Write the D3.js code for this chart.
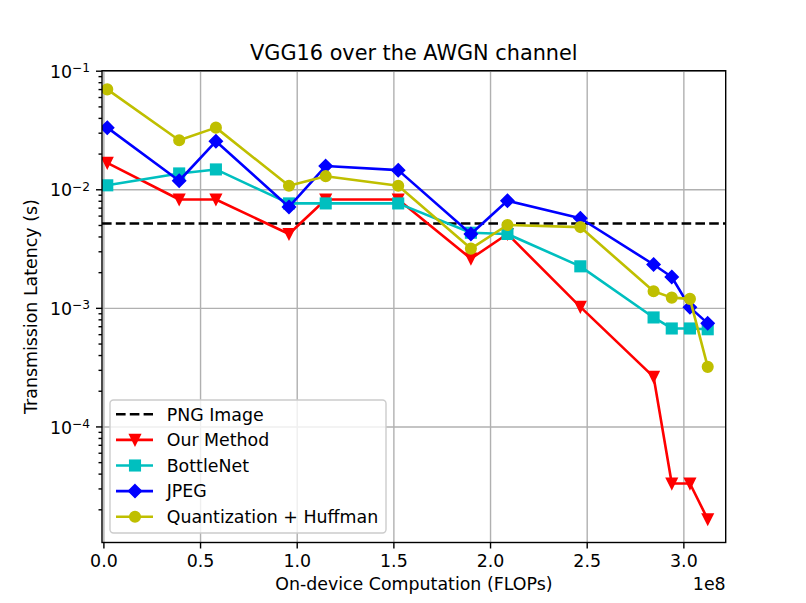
<!DOCTYPE html>
<html lang="en">
<head>
    <title>VGG16 over the AWGN channel</title>
    <meta charset="utf-8"/>
    <script src="https://d3js.org/d3.v7.min.js"></script>
    <style>
        body { margin: 0; background: #fff; }
        svg { font-family: "DejaVu Sans", sans-serif; }
    </style>
</head>
<body>
<div id="viz">
    <svg width="806" height="603"></svg>
</div>

<script type="text/javascript">

    // data (x in FLOPs, y in seconds)
    const flops = [0.02e8, 0.392e8, 0.582e8, 0.96e8, 1.15e8, 1.525e8, 1.901e8, 2.09e8, 2.467e8, 2.846e8, 2.94e8, 3.034e8, 3.126e8];
    const ourMethod = [0.0167, 0.0082, 0.0082, 0.0042, 0.0082, 0.0082, 0.0026, 0.0042, 0.00102, 2.62e-4, 3.3e-5, 3.3e-5, 1.65e-5];
    const bottleNet = [0.0108, 0.0136, 0.0147, 0.0076, 0.0076, 0.0076, 0.0043, 0.0042, 0.00224, 8.3e-4, 6.7e-4, 6.7e-4, 6.6e-4];
    const jpeg = [0.0331, 0.0118, 0.0254, 0.0071, 0.0157, 0.0145, 0.0042, 0.0080, 0.0057, 0.00232, 0.00182, 0.00101, 7.4e-4];
    const quantHuffman = [0.0696, 0.0259, 0.0331, 0.0107, 0.0129, 0.0107, 0.00316, 0.0050, 0.0048, 0.00138, 0.00122, 0.00119, 3.18e-4];
    const pngLatency = 0.00514;

    const xTicks = [0, 0.5e8, 1e8, 1.5e8, 2e8, 2.5e8, 3e8];
    const yTicks = [1e-1, 1e-2, 1e-3, 1e-4];
    const seriesNames = ["Our Method", "BottleNet", "JPEG", "Quantization + Huffman"];

    // colores estilo matplotlib
    const red = "#ff0000", cyan = "#00bfbf", blue = "#0000ff", olive = "#bfbf00";
    const fs = "17.4px";

    const margin = {left: 102, right: 80.3, top: 70.7, bottom: 60.5};
    const W = 806, H = 603;
    const w = W - margin.left - margin.right, h = H - margin.top - margin.bottom;

    let x = d3.scaleLinear().domain([-0.0072e8, 3.219e8]).range([0, w]);
    let y = d3.scaleLog().domain([1.05e-5, 1e-1]).range([h, 0]);

    let svg = d3.select("svg");
    let g = svg.append("g").attr("transform", "translate(" + margin.left + "," + margin.top + ")");

    // grid
    g.append("g")
        .attr("transform", "translate(0," + h + ")")
        .call(d3.axisBottom(x).tickValues(xTicks).tickSize(-h).tickFormat(""))
        .call(s => s.select(".domain").remove())
        .selectAll("line").attr("stroke", "#b0b0b0").attr("stroke-width", 1.4);
    g.append("g")
        .call(d3.axisLeft(y).tickValues(yTicks).tickSize(-w).tickFormat(""))
        .call(s => s.select(".domain").remove())
        .selectAll("line").attr("stroke", "#b0b0b0").attr("stroke-width", 1.4);

    // clip so nothing leaves the axes
    svg.append("defs").append("clipPath").attr("id", "clip")
        .append("rect").attr("width", w).attr("height", h);
    let plot = g.append("g").attr("clip-path", "url(#clip)");

    // PNG line (horizontal, dashed)
    plot.append("line")
        .attr("x1", 0).attr("x2", w)
        .attr("y1", y(pngLatency)).attr("y2", y(pngLatency))
        .attr("stroke", "#000").attr("stroke-width", 2.6)
        .attr("stroke-dasharray", "9.6,4.2");

    const series = [
        {name: seriesNames[0], values: ourMethod, color: red, marker: "triangle"},
        {name: seriesNames[1], values: bottleNet, color: cyan, marker: "square"},
        {name: seriesNames[2], values: jpeg, color: blue, marker: "diamond"},
        {name: seriesNames[3], values: quantHuffman, color: olive, marker: "circle"}
    ];

    function drawMarker(sel, type, color) {
        if (type === "circle") {
            sel.append("circle").attr("r", 5.2);
        } else if (type === "square") {
            sel.append("rect").attr("x", -5.2).attr("y", -5.2).attr("width", 10.4).attr("height", 10.4);
        } else if (type === "diamond") {
            sel.append("path").attr("d", "M0,-6.3L6.3,0L0,6.3L-6.3,0Z");
        } else {
            sel.append("path").attr("d", "M0,5.2L-5.2,-5.2L5.2,-5.2Z");
        }
        sel.selectAll("*").attr("fill", color).attr("stroke", color)
            .attr("stroke-width", 1.7).attr("stroke-linejoin", "miter");
    }

    let line = d3.line()
        .x((d, i) => x(flops[i]))
        .y(d => y(d));

    series.forEach(s => {
        plot.append("path")
            .attr("d", line(s.values))
            .attr("fill", "none")
            .attr("stroke", s.color)
            .attr("stroke-width", 2.6)
            .attr("stroke-linejoin", "round");
        plot.selectAll(null)
            .data(s.values).enter()
            .append("g")
            .attr("transform", (d, i) => "translate(" + x(flops[i]) + "," + y(d) + ")")
            .each(function () { drawMarker(d3.select(this), s.marker, s.color); });
    });

    // axes
    let xAxis = g.append("g")
        .attr("transform", "translate(0," + h + ")")
        .call(d3.axisBottom(x).tickValues(xTicks).tickSize(6).tickPadding(6)
            .tickFormat(d => (d / 1e8).toFixed(1)));

    let minorTicks = [];
    for (let e = -5; e <= -2; e++) {
        for (let k = 2; k <= 9; k++) {
            let v = k * Math.pow(10, e);
            if (v >= 1.05e-5 && v <= 1e-1) minorTicks.push(v);
        }
    }
    g.append("g")
        .call(d3.axisLeft(y).tickValues(minorTicks).tickSize(3.5).tickFormat(""))
        .call(s => s.select(".domain").remove());

    let yAxis = g.append("g")
        .call(d3.axisLeft(y).tickValues(yTicks).tickSize(6).tickPadding(6)
            .tickFormat(d => ""));

    // etiquetas 10^k
    yAxis.selectAll(".tick text").each(function (d) {
        let t = d3.select(this);
        let exp = Math.round(Math.log10(d));
        t.attr("dy", "0.38em");
        t.append("tspan").text("10");
        t.append("tspan").attr("dy", "-0.45em").style("font-size", "12.2px").text("\u2212" + (-exp));
    });

    [xAxis, yAxis].forEach(a => {
        a.selectAll("text").attr("fill", "#000").style("font-size", fs).style("font-family", "DejaVu Sans");
        a.selectAll(".tick line").attr("stroke", "#000").attr("stroke-width", 1.4);
        a.select(".domain").remove();
    });
    g.selectAll(".tick line").attr("stroke-width", 1.4);

    // frame
    g.append("rect")
        .attr("width", w).attr("height", h)
        .attr("fill", "none").attr("stroke", "#000").attr("stroke-width", 1.4);

    // title and labels
    svg.append("text")
        .attr("x", margin.left + w / 2).attr("y", 60)
        .attr("text-anchor", "middle")
        .style("font-size", "20.8px")
        .text("VGG16 over the AWGN channel");

    svg.append("text")
        .attr("x", margin.left + w / 2).attr("y", 590)
        .attr("text-anchor", "middle")
        .style("font-size", fs)
        .text("On-device Computation (FLOPs)");

    svg.append("text")
        .attr("x", margin.left + w).attr("y", 590)
        .attr("text-anchor", "end")
        .style("font-size", fs)
        .text("1e8");

    svg.append("text")
        .attr("transform", "translate(37," + (margin.top + h / 2) + ") rotate(-90)")
        .attr("text-anchor", "middle")
        .style("font-size", fs)
        .text("Transmission Latency (s)");

    // legend
    let legend = svg.append("g").attr("transform", "translate(110,400)");
    legend.append("rect")
        .attr("width", 276).attr("height", 133).attr("rx", 3.5)
        .attr("fill", "#fff").attr("fill-opacity", 0.8)
        .attr("stroke", "#cccccc").attr("stroke-width", 1.4);

    const legendItems = [{name: "PNG Image", color: "#000", marker: null}].concat(series);
    legendItems.forEach((item, i) => {
        let row = legend.append("g").attr("transform", "translate(0," + (14.3 + i * 25.6) + ")");
        row.append("line")
            .attr("x1", 6).attr("x2", 43)
            .attr("stroke", item.color).attr("stroke-width", 2.6)
            .attr("stroke-dasharray", item.marker ? null : "9.6,4.2");
        if (item.marker) {
            let m = row.append("g").attr("transform", "translate(25,0)");
            drawMarker(m, item.marker, item.color);
        }
        row.append("text")
            .attr("x", 56.7).attr("dy", "0.36em")
            .style("font-size", fs)
            .text(item.name);
    });

</script>
</body>
</html>
